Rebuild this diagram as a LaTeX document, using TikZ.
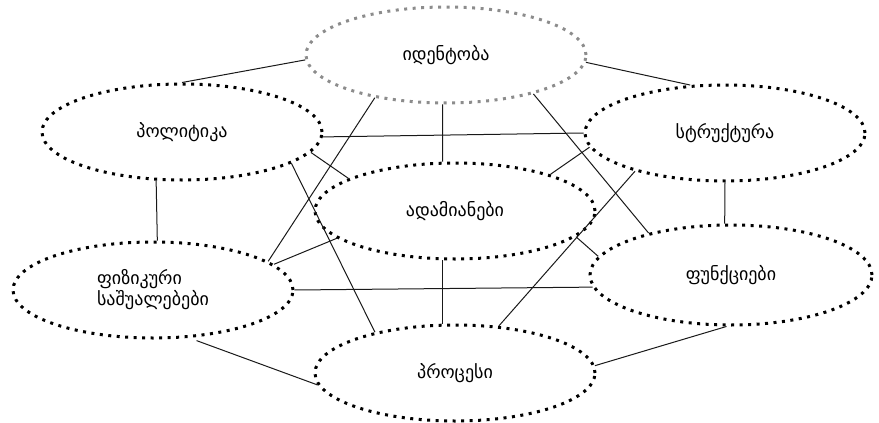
\documentclass[tikz,border=0pt]{standalone}
\usepackage{fontspec}
\setmainfont{DejaVu Sans}
\usetikzlibrary{shapes.geometric}
\begin{document}
\begin{tikzpicture}[x=1pt, y=-1pt,
    bubble/.style={ellipse, draw=black, line width=3pt, dash pattern=on 3pt off 5.5pt,
      minimum width=280pt, minimum height=96pt, inner sep=0pt, font=\fontsize{18}{21}\selectfont},
    paleBubble/.style={bubble, draw=black!45},
    link/.style={draw=black!90, line width=1pt}]

  \useasboundingbox (0,0) rectangle (879,423);

  \node[paleBubble] (ident) at (446,55) {იდენტობა};
  \node[bubble] (polit) at (182,132) {პოლიტიკა};
  \node[bubble] (struct) at (725,133) {სტრუქტურა};
  \node[bubble] (people) at (455,211) {ადამიანები};
  \node[bubble, align=left] (phys) at (153,290) {ფიზიკური\\საშუალებები};
  \node[bubble, minimum width=282pt, minimum height=100pt] (funct) at (731,275) {ფუნქციები};
  \node[bubble] (proc) at (455,373) {პროცესი};

  \draw[link] (ident.182) -- (polit.north);
  \draw[link] (ident.357) -- (struct.126);
  \draw[link] (ident.266) -- (people.104);
  \draw[link] (ident.211) -- (phys.14);
  \draw[link] (ident.336) -- (funct.153);
  \draw[link] (polit.-2) -- (struct.west);
  \draw[link] (polit.-9) -- (people.163);
  \draw[link] (polit.-16) -- (proc.153);
  \draw[link] (polit.242) -- (phys.85);
  \draw[link] (struct.186) -- (people.21);
  \draw[link] (struct.203) -- (proc.47);
  \draw[link] (struct.south) -- (funct.97);
  \draw[link] (people.256) -- (proc.104);
  \draw[link] (people.193) -- (phys.12);
  \draw[link] (people.-12) -- (funct.172);
  \draw[link] (phys.east) -- (funct.185);
  \draw[link, shorten <=8pt] (phys.-53) -- (proc.185);
  \draw[link] (funct.265) -- (proc.3);

\end{tikzpicture}
\end{document}
